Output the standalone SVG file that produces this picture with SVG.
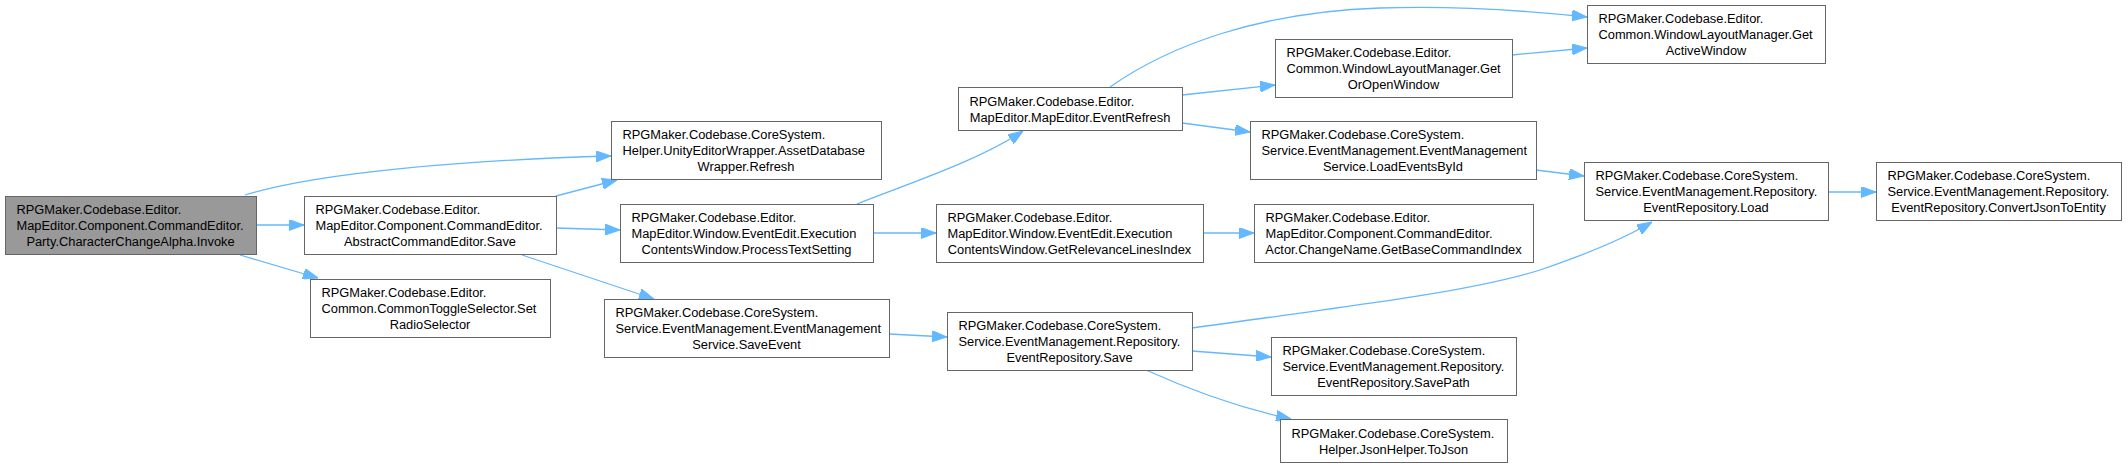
<svg xmlns="http://www.w3.org/2000/svg" width="2126" height="468" viewBox="0 0 2126 468">
<style>
.node rect{fill:#ffffff;stroke:#666666;stroke-width:1}
.root rect{fill:#999999}
text{font-family:"Liberation Sans",Arial,Helvetica,sans-serif;font-size:12.85px;fill:#000000}
.c{text-anchor:middle}
.edge path{fill:none;stroke:#63B8FF;stroke-width:1.3;marker-end:url(#ah)}
</style>
<defs>
<marker id="ah" markerUnits="userSpaceOnUse" markerWidth="15" markerHeight="11" refX="15" refY="5.5" orient="auto" viewBox="0 0 15 11">
<path d="M0,0 L15,5.5 L0,11 z" fill="#63B8FF" stroke="#63B8FF" stroke-width="1"/>
</marker>
</defs>
<rect x="0" y="0" width="2126" height="468" fill="#ffffff"/>
<g id="edges" class="edge">
<path d="M256,225 L304,225"/>
<path d="M240,255 L318,278"/>
<path d="M245,195 C320,172 470,160 611,156"/>
<path d="M556,196 L617,180"/>
<path d="M556,228 L620,230"/>
<path d="M522,255 L654,299"/>
<path d="M857,204 C910,183 980,160 1023,131"/>
<path d="M873,233 L936,233"/>
<path d="M1203,233 L1254,233"/>
<path d="M889,334 L947,337"/>
<path d="M1110,87 C1170,45 1260,12 1380,8 C1460,5 1530,11 1587,17"/>
<path d="M1182,95 L1275,85"/>
<path d="M1182,123 L1250,132"/>
<path d="M1512,55 L1587,48"/>
<path d="M1536,170 L1584,176"/>
<path d="M1828,192 L1876,192"/>
<path d="M1192,328 C1350,306 1470,292 1540,270 C1590,253 1625,238 1652,222"/>
<path d="M1192,351 L1271,357"/>
<path d="M1146,370 C1190,390 1240,408 1291,419"/>
</g>
<g id="n_invoke" class="node root">
<rect x="5.5" y="196.5" width="251" height="58"/>
<text x="16.5" y="214">RPGMaker.Codebase.Editor.</text>
<text x="16.5" y="230">MapEditor.Component.CommandEditor.</text>
<text class="c" x="130.5" y="246">Party.CharacterChangeAlpha.Invoke</text>
</g>
<g id="n_save" class="node">
<rect x="304.5" y="196.5" width="252" height="58"/>
<text x="315.5" y="214">RPGMaker.Codebase.Editor.</text>
<text x="315.5" y="230">MapEditor.Component.CommandEditor.</text>
<text class="c" x="430" y="246">AbstractCommandEditor.Save</text>
</g>
<g id="n_setradio" class="node">
<rect x="310.5" y="279.5" width="240" height="58"/>
<text x="321.5" y="297">RPGMaker.Codebase.Editor.</text>
<text x="321.5" y="313">Common.CommonToggleSelector.Set</text>
<text class="c" x="430" y="329">RadioSelector</text>
</g>
<g id="n_refresh" class="node">
<rect x="611.5" y="121.5" width="270" height="58"/>
<text x="622.5" y="139">RPGMaker.Codebase.CoreSystem.</text>
<text x="622.5" y="155">Helper.UnityEditorWrapper.AssetDatabase</text>
<text class="c" x="746" y="171">Wrapper.Refresh</text>
</g>
<g id="n_processtext" class="node">
<rect x="620.5" y="204.5" width="253" height="58"/>
<text x="631.5" y="222">RPGMaker.Codebase.Editor.</text>
<text x="631.5" y="238">MapEditor.Window.EventEdit.Execution</text>
<text class="c" x="746.5" y="254">ContentsWindow.ProcessTextSetting</text>
</g>
<g id="n_saveevent" class="node">
<rect x="604.5" y="299.5" width="285" height="58"/>
<text x="615.5" y="317">RPGMaker.Codebase.CoreSystem.</text>
<text x="615.5" y="333">Service.EventManagement.EventManagement</text>
<text class="c" x="746.5" y="349">Service.SaveEvent</text>
</g>
<g id="n_eventrefresh" class="node">
<rect x="958.5" y="87.5" width="224" height="43"/>
<text x="969.5" y="105.5">RPGMaker.Codebase.Editor.</text>
<text class="c" x="1070" y="121.5">MapEditor.MapEditor.EventRefresh</text>
</g>
<g id="n_getrelevance" class="node">
<rect x="936.5" y="204.5" width="267" height="58"/>
<text x="947.5" y="222">RPGMaker.Codebase.Editor.</text>
<text x="947.5" y="238">MapEditor.Window.EventEdit.Execution</text>
<text class="c" x="1069.5" y="254">ContentsWindow.GetRelevanceLinesIndex</text>
</g>
<g id="n_reposave" class="node">
<rect x="947.5" y="312.5" width="245" height="58"/>
<text x="958.5" y="330">RPGMaker.Codebase.CoreSystem.</text>
<text x="958.5" y="346">Service.EventManagement.Repository.</text>
<text class="c" x="1069.5" y="362">EventRepository.Save</text>
</g>
<g id="n_getactive" class="node">
<rect x="1587.5" y="5.5" width="238" height="58"/>
<text x="1598.5" y="23">RPGMaker.Codebase.Editor.</text>
<text x="1598.5" y="39">Common.WindowLayoutManager.Get</text>
<text class="c" x="1706" y="55">ActiveWindow</text>
</g>
<g id="n_getoropen" class="node">
<rect x="1275.5" y="39.5" width="237" height="58"/>
<text x="1286.5" y="57">RPGMaker.Codebase.Editor.</text>
<text x="1286.5" y="73">Common.WindowLayoutManager.Get</text>
<text class="c" x="1393.5" y="89">OrOpenWindow</text>
</g>
<g id="n_loadevents" class="node">
<rect x="1250.5" y="121.5" width="286" height="58"/>
<text x="1261.5" y="139">RPGMaker.Codebase.CoreSystem.</text>
<text x="1261.5" y="155">Service.EventManagement.EventManagement</text>
<text class="c" x="1393" y="171">Service.LoadEventsById</text>
</g>
<g id="n_getbase" class="node">
<rect x="1254.5" y="204.5" width="279" height="58"/>
<text x="1265.5" y="222">RPGMaker.Codebase.Editor.</text>
<text x="1265.5" y="238">MapEditor.Component.CommandEditor.</text>
<text class="c" x="1393.5" y="254">Actor.ChangeName.GetBaseCommandIndex</text>
</g>
<g id="n_savepath" class="node">
<rect x="1271.5" y="337.5" width="245" height="58"/>
<text x="1282.5" y="355">RPGMaker.Codebase.CoreSystem.</text>
<text x="1282.5" y="371">Service.EventManagement.Repository.</text>
<text class="c" x="1393.5" y="387">EventRepository.SavePath</text>
</g>
<g id="n_tojson" class="node">
<rect x="1280.5" y="419.5" width="227" height="43"/>
<text x="1291.5" y="437.5">RPGMaker.Codebase.CoreSystem.</text>
<text class="c" x="1393.5" y="453.5">Helper.JsonHelper.ToJson</text>
</g>
<g id="n_repoload" class="node">
<rect x="1584.5" y="162.5" width="244" height="58"/>
<text x="1595.5" y="180">RPGMaker.Codebase.CoreSystem.</text>
<text x="1595.5" y="196">Service.EventManagement.Repository.</text>
<text class="c" x="1706" y="212">EventRepository.Load</text>
</g>
<g id="n_convertjson" class="node">
<rect x="1876.5" y="162.5" width="245" height="58"/>
<text x="1887.5" y="180">RPGMaker.Codebase.CoreSystem.</text>
<text x="1887.5" y="196">Service.EventManagement.Repository.</text>
<text class="c" x="1998.5" y="212">EventRepository.ConvertJsonToEntity</text>
</g>
</svg>
